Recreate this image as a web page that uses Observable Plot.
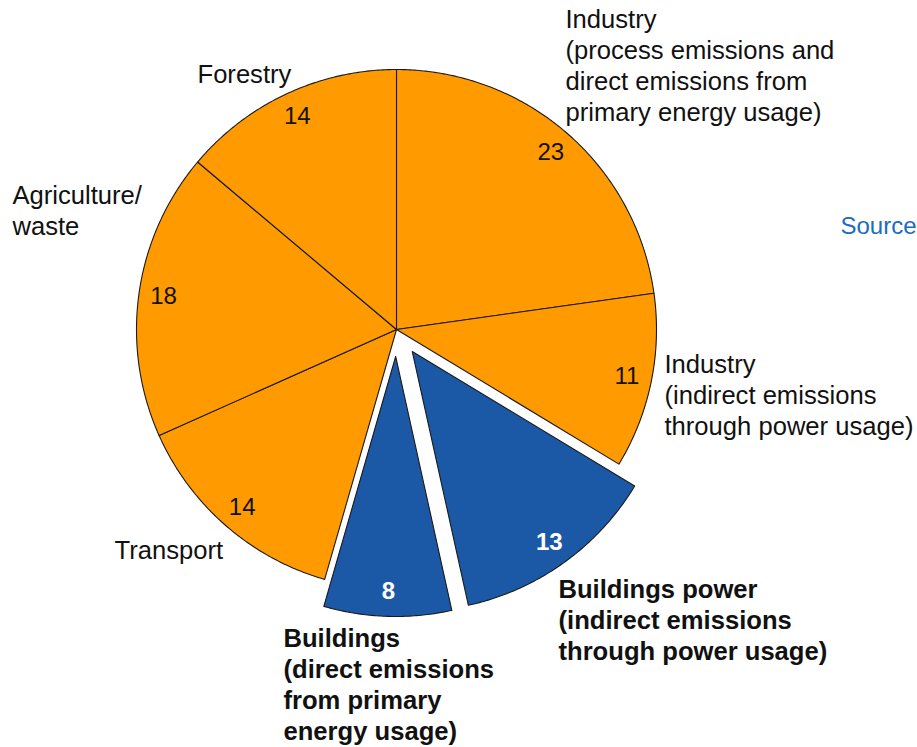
<!DOCTYPE html>
<html>
<head>
<meta charset="utf-8">
<script src="https://cdn.jsdelivr.net/npm/d3@7"></script>
<script src="https://cdn.jsdelivr.net/npm/@observablehq/plot@0.6"></script>
<style>
  html, body { margin: 0; padding: 0; background: #fff; overflow: hidden; }
  #chart svg { display: block; }
</style>
</head>
<body>
<div id="chart"></div>
<script>
// ---- data ----
const categories = ["Industry (process/direct)", "Industry (indirect)", "Buildings power", "Buildings", "Transport", "Agriculture/waste", "Forestry"];
const values = [23, 11, 13, 8, 14, 18, 14];
const exploded = [false, false, true, true, false, false, false];
const labelTexts = [
  "Industry\n(process emissions and\ndirect emissions from\nprimary energy usage)",
  "Industry\n(indirect emissions\nthrough power usage)",
  "Buildings power\n(indirect emissions\nthrough power usage)",
  "Buildings\n(direct emissions\nfrom primary\nenergy usage)",
  "Transport",
  "Agriculture/\nwaste",
  "Forestry"
];
const sourceText = "Source";

// ---- layout ----
const W = 917, H = 747;
const cx = 396, cy = 329, R = 260, explodeOffset = 27;
const labelPos = [
  [565, 64], [664, 394], [558, 618.5], [283, 683], [114, 549], [12, 209.5], [197, 73]
];
const ORANGE = "#ff9a00", BLUE = "#1b59a6";

const arcs = d3.pie().sort(null).startAngle(0).endAngle(2 * Math.PI)(values);

const slicePts = [];
const numLabels = [];
arcs.forEach((a, i) => {
  const mid = (a.startAngle + a.endAngle) / 2;
  const off = exploded[i] ? explodeOffset : 0;
  const ox = cx + off * Math.sin(mid), oy = cy - off * Math.cos(mid);
  const pts = [[ox, oy]];
  const n = Math.max(8, Math.ceil((a.endAngle - a.startAngle) / (Math.PI / 360)));
  for (let k = 0; k <= n; k++) {
    const t = a.startAngle + (a.endAngle - a.startAngle) * k / n;
    pts.push([ox + R * Math.sin(t), oy - R * Math.cos(t)]);
  }
  pts.push([ox, oy]);
  pts.forEach(([x, y]) => slicePts.push({name: categories[i], x, y, color: exploded[i] ? BLUE : ORANGE}));
  const r = 0.905 * R;
  numLabels.push({x: ox + r * Math.sin(mid), y: oy - r * Math.cos(mid), text: String(values[i]), ex: exploded[i]});
});

const catLabels = categories.map((c, i) => ({x: labelPos[i][0], y: labelPos[i][1], text: labelTexts[i], ex: exploded[i]}));

const font = "Arial, 'Liberation Sans', sans-serif";

const chart = Plot.plot({
  width: W, height: H,
  margin: 0,
  x: {domain: [0, W], range: [0, W], axis: null},
  y: {domain: [0, H], range: [0, H], axis: null},
  color: {type: "identity"},
  style: {fontFamily: font, background: "#fff"},
  marks: [
    Plot.line(slicePts, {x: "x", y: "y", z: "name", fill: "color", stroke: "#1a1a1a", strokeWidth: 1.1, strokeLinejoin: "round"}),
    Plot.text(numLabels.filter(d => !d.ex), {x: "x", y: "y", text: "text", fontSize: 24, fill: "#111"}),
    Plot.text(numLabels.filter(d => d.ex), {x: "x", y: "y", text: "text", fontSize: 24, fontWeight: "bold", fill: "#fff"}),
    Plot.text(catLabels.filter(d => !d.ex), {x: "x", y: "y", text: "text", textAnchor: "start", lineAnchor: "middle", lineHeight: 1.21, fontSize: 25.6, fill: "#111"}),
    Plot.text(catLabels.filter(d => d.ex), {x: "x", y: "y", text: "text", textAnchor: "start", lineAnchor: "middle", lineHeight: 1.21, fontSize: 25.6, fontWeight: "bold", fill: "#111"}),
    Plot.text([{x: 840, y: 226, text: sourceText}], {x: "x", y: "y", text: "text", textAnchor: "start", fontSize: 24, fill: "#1a6cc0"})
  ]
});
document.getElementById("chart").appendChild(chart);
</script>
</body>
</html>
